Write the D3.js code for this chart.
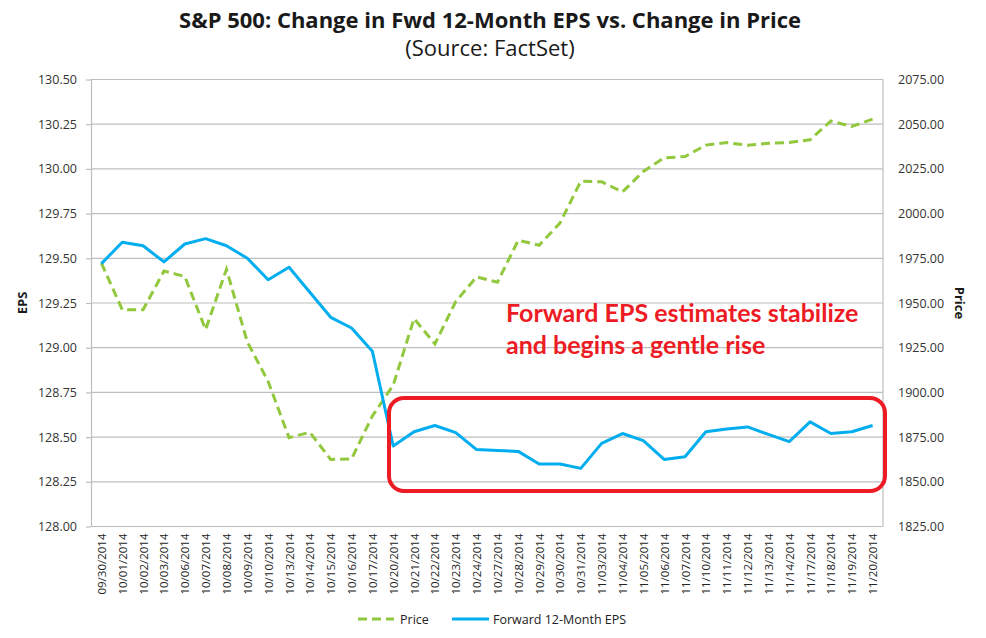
<!DOCTYPE html>
<html>
<head>
<meta charset="utf-8">
<script src="https://cdn.jsdelivr.net/npm/d3@7"></script>
<style>
html,body{margin:0;padding:0;background:#fff;}
svg{display:block;font-family:"Open Sans",sans-serif;}
</style>
</head>
<body>
<svg id="chart" width="986" height="638"></svg>
<script>
const dates = ["09/30/2014","10/01/2014","10/02/2014","10/03/2014","10/06/2014","10/07/2014","10/08/2014","10/09/2014","10/10/2014","10/13/2014","10/14/2014","10/15/2014","10/16/2014","10/17/2014","10/20/2014","10/21/2014","10/22/2014","10/23/2014","10/24/2014","10/27/2014","10/28/2014","10/29/2014","10/30/2014","10/31/2014","11/03/2014","11/04/2014","11/05/2014","11/06/2014","11/07/2014","11/10/2014","11/11/2014","11/12/2014","11/13/2014","11/14/2014","11/17/2014","11/18/2014","11/19/2014","11/20/2014"];
const priceValues = [1972.3,1946.2,1946.2,1967.9,1964.8,1935.1,1968.9,1928.2,1906.1,1874.7,1877.7,1862.5,1862.8,1886.8,1904.0,1941.3,1927.1,1950.8,1964.6,1961.6,1985.1,1982.3,1994.7,2018.1,2017.8,2012.1,2023.6,2031.2,2031.9,2038.3,2039.7,2038.3,2039.3,2039.8,2041.3,2051.8,2048.7,2052.8];
const epsValues = [129.47,129.59,129.57,129.48,129.58,129.61,129.57,129.50,129.38,129.45,129.31,129.17,129.11,128.98,128.45,128.53,128.565,128.525,128.43,128.425,128.42,128.35,128.35,128.325,128.465,128.52,128.48,128.375,128.39,128.53,128.545,128.557,128.515,128.475,128.585,128.52,128.53,128.565];
const epsTicks = [128.00,128.25,128.50,128.75,129.00,129.25,129.50,129.75,130.00,130.25,130.50];
const priceTicks = [1825,1850,1875,1900,1925,1950,1975,2000,2025,2050,2075];
const titleText = "S&P 500: Change in Fwd 12-Month EPS vs. Change in Price";
const subtitleText = "(Source: FactSet)";
const noteLines = ["Forward EPS estimates stabilize","and begins a gentle rise"];
const seriesNames = ["Price","Forward 12-Month EPS"];

const svg = d3.select("#chart");
const M = {left:91, right:883, top:79.5, bottom:526.5};
const GREEN = "#92C83E", BLUE = "#00AEEF", RED = "#ED1C24", GRID = "#BEBEBE";

const x = d3.scalePoint().domain(dates).range([M.left, M.right]).padding(0.5);
const yL = d3.scaleLinear().domain([128, 130.5]).range([M.bottom, M.top]);
const yR = d3.scaleLinear().domain([1825, 2075]).range([M.bottom, M.top]);

// title
svg.append("text").attr("x",490).attr("y",28).attr("text-anchor","middle")
  .attr("font-size",22).attr("font-weight","bold").attr("fill","#1a1a1a").text(titleText);
svg.append("text").attr("x",490).attr("y",56).attr("text-anchor","middle")
  .attr("font-size",22).attr("fill","#1a1a1a").text(subtitleText);

// gridlines
svg.append("g").selectAll("line").data(epsTicks).join("line")
  .attr("x1",M.left).attr("x2",M.right)
  .attr("y1",d=>yL(d)).attr("y2",d=>yL(d))
  .attr("stroke",GRID).attr("stroke-width",1.2);
// right border
svg.append("line").attr("x1",M.right).attr("x2",M.right).attr("y1",M.top).attr("y2",M.bottom)
  .attr("stroke",GRID).attr("stroke-width",1.2);

// left axis
const gL = svg.append("g").attr("transform",`translate(${M.left},0)`)
  .call(d3.axisLeft(yL).tickValues(epsTicks).tickFormat(d3.format(".2f")).tickSize(5).tickSizeOuter(0).tickPadding(9));
gL.select(".domain").attr("stroke",GRID).attr("stroke-width",1.2);
gL.selectAll(".tick line").attr("stroke",GRID).attr("stroke-width",1.2);
gL.selectAll("text").attr("font-size",12.5).attr("fill","#333").attr("font-family","Open Sans");

// right axis
const gR = svg.append("g").attr("transform",`translate(${M.right},0)`)
  .call(d3.axisRight(yR).tickValues(priceTicks).tickFormat(d3.format(".2f")).tickSize(0).tickPadding(15));
gR.select(".domain").remove();
gR.selectAll("text").attr("font-size",12.5).attr("fill","#333").attr("font-family","Open Sans");

// bottom axis
const gB = svg.append("g").attr("transform",`translate(0,${M.bottom})`)
  .call(d3.axisBottom(x).tickSize(0).tickPadding(0));
gB.select(".domain").attr("stroke",GRID).attr("stroke-width",1.2).attr("d",`M${M.left},0H${M.right}`);
gB.selectAll("text").attr("font-size",11.5).attr("fill","#222").attr("font-family","Open Sans")
  .attr("text-anchor","end").attr("dy","0.35em")
  .attr("transform","translate(0,7) rotate(-90)");

// axis titles
svg.append("text").attr("transform","translate(27,303) rotate(-90)").attr("text-anchor","middle")
  .attr("font-size",13).attr("font-weight","bold").attr("fill","#1a1a1a").text("EPS");
svg.append("text").attr("transform","translate(955,303) rotate(90)").attr("text-anchor","middle")
  .attr("font-size",13).attr("font-weight","bold").attr("fill","#1a1a1a").text("Price");

// lines
const priceLine = d3.line().x((d,i)=>x(dates[i])).y(d=>yR(d));
const epsLine = d3.line().x((d,i)=>x(dates[i])).y(d=>yL(d));
svg.append("path").datum(priceValues).attr("d",priceLine).attr("fill","none")
  .attr("stroke",GREEN).attr("stroke-width",3).attr("stroke-dasharray","9,5");
svg.append("path").datum(epsValues).attr("d",epsLine).attr("fill","none")
  .attr("stroke",BLUE).attr("stroke-width",3).attr("stroke-linejoin","round");

// annotation box
svg.append("rect").attr("x",389).attr("y",398).attr("width",496).attr("height",93)
  .attr("rx",15).attr("ry",15).attr("fill","none").attr("stroke",RED).attr("stroke-width",4);
svg.append("g").selectAll("text").data(noteLines).join("text")
  .attr("x",506).attr("y",(d,i)=>322+i*32)
  .attr("font-size",25).attr("font-weight","bold").attr("font-family","Lato").attr("fill",RED).text(d=>d);

// legend
const lg = svg.append("g");
lg.append("line").attr("x1",358).attr("x2",394).attr("y1",619).attr("y2",619)
  .attr("stroke",GREEN).attr("stroke-width",3).attr("stroke-dasharray","9,5");
lg.append("text").attr("x",400).attr("y",623.5).attr("font-size",12.5).attr("fill","#222").text(seriesNames[0]);
lg.append("line").attr("x1",452).attr("x2",489).attr("y1",619).attr("y2",619)
  .attr("stroke",BLUE).attr("stroke-width",3);
lg.append("text").attr("x",493).attr("y",623.5).attr("font-size",12.5).attr("fill","#222").text(seriesNames[1]);
</script>
</body>
</html>
